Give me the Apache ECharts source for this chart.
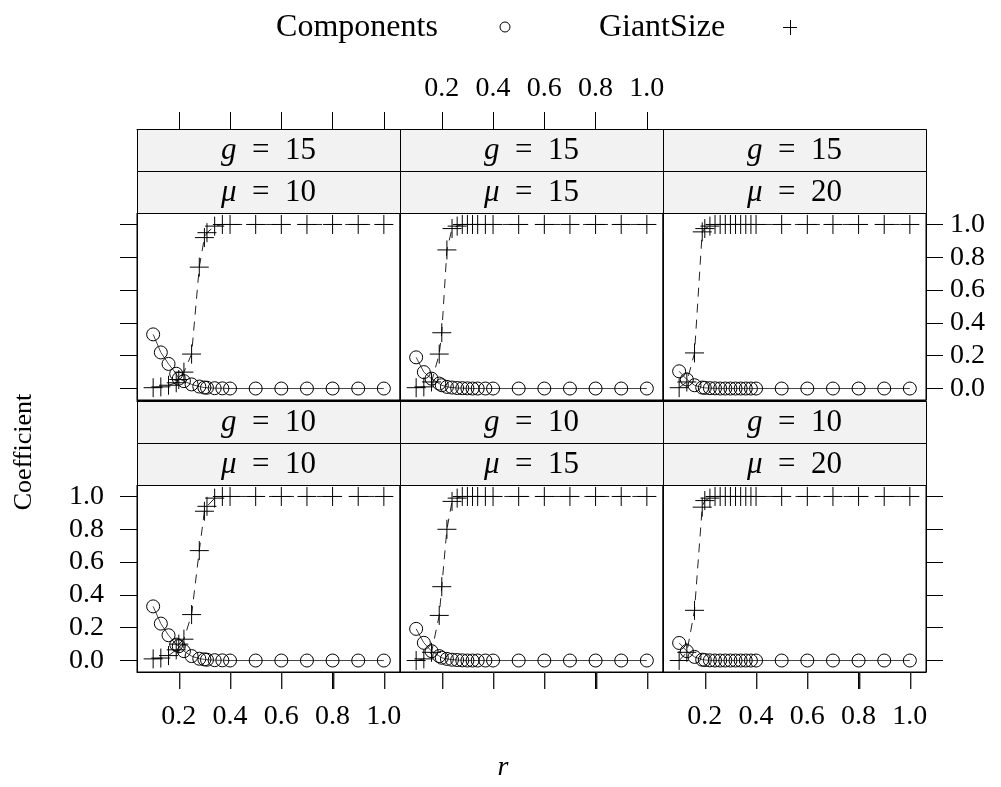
<!DOCTYPE html>
<html><head><meta charset="utf-8">
<script src="https://cdn.jsdelivr.net/npm/echarts@6/dist/echarts.min.js"></script>
<style>html,body{margin:0;padding:0;background:#fff}#c{width:1001px;height:787px}</style>
</head><body><div id="c"></div>
<script>
// ---- data ----
const r_mu10 = [0.1,0.13,0.16,0.19,0.2,0.22,0.25,0.28,0.3,0.31,0.34,0.37,0.4,0.5,0.6,0.7,0.8,0.9,1.0];
const r_mu15 = [0.1,0.13,0.16,0.19,0.2,0.22,0.24,0.26,0.28,0.3,0.32,0.34,0.37,0.4,0.5,0.6,0.7,0.8,0.9,1.0];
const r_mu20 = [0.1,0.13,0.16,0.19,0.2,0.22,0.24,0.26,0.28,0.3,0.32,0.34,0.36,0.38,0.4,0.5,0.6,0.7,0.8,0.9,1.0];

const comp_g15_mu10  = [0.33,0.22,0.15,0.09,0.06,0.045,0.025,0.012,0.006,0.005,0.002,0.001,0,0,0,0,0,0,0];
const giant_g15_mu10 = [0.005,0.01,0.02,0.035,0.055,0.1,0.21,0.74,0.92,0.95,0.99,1,1,1,1,1,1,1,1];
const comp_g15_mu15  = [0.19,0.10,0.06,0.03,0.02,0.01,0.006,0.003,0.002,0.001,0,0,0,0,0,0,0,0,0,0];
const giant_g15_mu15 = [0.005,0.01,0.04,0.21,0.34,0.845,0.975,0.99,1,1,1,1,1,1,1,1,1,1,1,1];
const comp_g15_mu20  = [0.105,0.055,0.02,0.006,0.004,0.002,0.001,0,0,0,0,0,0,0,0,0,0,0,0,0,0];
const giant_g15_mu20 = [0.005,0.04,0.217,0.955,0.975,0.99,1,1,1,1,1,1,1,1,1,1,1,1,1,1,1];
const comp_g10_mu10  = [0.33,0.225,0.154,0.097,0.087,0.057,0.027,0.011,0.007,0.005,0.002,0.001,0,0,0,0,0,0,0];
const giant_g10_mu10 = [0.01,0.015,0.03,0.065,0.1,0.13,0.28,0.67,0.91,0.94,0.99,1,1,1,1,1,1,1,1];
const comp_g10_mu15  = [0.193,0.108,0.057,0.027,0.017,0.01,0.005,0.003,0.001,0,0,0,0,0,0,0,0,0,0,0];
const giant_g10_mu15 = [0.0,0.01,0.05,0.275,0.45,0.80,0.97,0.99,1,1,1,1,1,1,1,1,1,1,1,1];
const comp_g10_mu20  = [0.107,0.057,0.022,0.005,0.003,0.001,0,0,0,0,0,0,0,0,0,0,0,0,0,0,0];
const giant_g10_mu20 = [0.0,0.05,0.306,0.935,0.975,0.99,1,1,1,1,1,1,1,1,1,1,1,1,1,1,1];

const xTicks = [0.2,0.4,0.6,0.8,1.0];
const yTicks = [0,0.2,0.4,0.6,0.8,1.0];
const seriesNames = ['Components','GiantSize'];

const panels = [
  {g:15, mu:10, r:r_mu10, comp:comp_g15_mu10, giant:giant_g15_mu10},
  {g:15, mu:15, r:r_mu15, comp:comp_g15_mu15, giant:giant_g15_mu15},
  {g:15, mu:20, r:r_mu20, comp:comp_g15_mu20, giant:giant_g15_mu20},
  {g:10, mu:10, r:r_mu10, comp:comp_g10_mu10, giant:giant_g10_mu10},
  {g:10, mu:15, r:r_mu15, comp:comp_g10_mu15, giant:giant_g10_mu15},
  {g:10, mu:20, r:r_mu20, comp:comp_g10_mu20, giant:giant_g10_mu20}
];

// ---- layout ----
const FONT = '"Liberation Serif", "Times New Roman", serif';
const colLeft = [137, 400, 663];
const panelW = 263;
const rowTop = [213, 485];
const panelH = 187;
const stripH = 42;
const TICK = 17;
const XMIN = 0.037, XMAX = 1.063, YMIN = -0.07, YMAX = 1.07;
const PLUS = 'path://M0,10L20,10M10,0L10,20';

const grids = [], xAxes = [], yAxes = [], series = [], graphics = [];

function tickStyle(show, vals) {
  return {show: show, length: TICK, inside: false, customValues: vals, lineStyle: {color: '#000', width: 1}};
}
function labelStyle(show, vals, margin) {
  return {show: show, customValues: vals, margin: margin, color: '#000', fontFamily: FONT, fontSize: 28,
          formatter: v => Number(v).toFixed(1)};
}
function axLine() { return {show: true, onZero: false, lineStyle: {color: '#000', width: 1}}; }

panels.forEach((p, i) => {
  const row = i < 3 ? 0 : 1, col = i % 3;
  grids.push({left: colLeft[col], top: rowTop[row], width: panelW, height: panelH,
              show: true, borderColor: '#000', borderWidth: 1});
  // bottom x
  xAxes.push({type: 'value', gridIndex: i, position: 'bottom', min: XMIN, max: XMAX,
    axisLine: axLine(), splitLine: {show: false},
    axisTick: tickStyle(row === 1, xTicks), axisLabel: labelStyle(row === 1 && col !== 1, xTicks, 31)});
  // top x
  xAxes.push({type: 'value', gridIndex: i, position: 'top', offset: stripH * 2, min: XMIN, max: XMAX,
    axisLine: axLine(), splitLine: {show: false},
    axisTick: tickStyle(row === 0 && col < 2, xTicks), axisLabel: labelStyle(row === 0 && col === 1, xTicks, 26)});
  // left y
  yAxes.push({type: 'value', gridIndex: i, position: 'left', min: YMIN, max: YMAX,
    axisLine: axLine(), splitLine: {show: false},
    axisTick: tickStyle(col === 0, yTicks), axisLabel: labelStyle(col === 0 && row === 1, yTicks, 33)});
  // right y
  yAxes.push({type: 'value', gridIndex: i, position: 'right', min: YMIN, max: YMAX,
    axisLine: axLine(), splitLine: {show: false},
    axisTick: tickStyle(col === 2, yTicks), axisLabel: labelStyle(col === 2 && row === 0, yTicks, 24)});

  series.push({
    name: seriesNames[0], type: 'line', xAxisIndex: 2 * i, yAxisIndex: 2 * i,
    data: p.r.map((x, k) => [x, p.comp[k]]),
    symbol: 'circle', symbolSize: 13, showAllSymbol: true, silent: true,
    lineStyle: {color: '#444', width: 1, type: 'solid'},
    itemStyle: {color: 'rgba(0,0,0,0)', borderColor: '#000', borderWidth: 1}
  });
  series.push({
    name: seriesNames[1], type: 'line', xAxisIndex: 2 * i, yAxisIndex: 2 * i,
    data: p.r.map((x, k) => [x, p.giant[k]]),
    symbol: PLUS, symbolSize: 19, showAllSymbol: true, silent: true,
    lineStyle: {color: '#222', width: 1, type: [9, 7]},
    itemStyle: {color: 'rgba(0,0,0,0)', borderColor: '#000', borderWidth: 1}
  });

  // strips
  const sx = colLeft[col], sTop = rowTop[row] - 2 * stripH;
  const strips = [
    {y: sTop, txt: '{i|g}\u2002=\u2002' + p.g},
    {y: sTop + stripH, txt: '{i|μ}\u2002=\u2002' + p.mu}
  ];
  strips.forEach(s => {
    graphics.push({type: 'rect', silent: true, z: 1,
      shape: {x: sx + 0.5, y: s.y + 0.5, width: panelW, height: stripH},
      style: {fill: '#f2f2f2', stroke: '#000', lineWidth: 1}});
    graphics.push({type: 'text', silent: true, z: 2, x: sx + panelW / 2, y: s.y + stripH / 2 + 1,
      style: {text: s.txt, font: '31px ' + FONT, fill: '#000', align: 'center', verticalAlign: 'middle',
        rich: {i: {fontStyle: 'italic', fontFamily: FONT, fontSize: 31}}}});
  });
});

// legend (key above the panels)
graphics.push({type: 'text', silent: true, x: 357, y: 28,
  style: {text: seriesNames[0], font: '32px ' + FONT, fill: '#000', align: 'center', verticalAlign: 'middle'}});
graphics.push({type: 'circle', silent: true, shape: {cx: 505, cy: 27, r: 5},
  style: {fill: 'none', stroke: '#000', lineWidth: 1}});
graphics.push({type: 'text', silent: true, x: 662, y: 28,
  style: {text: seriesNames[1], font: '32px ' + FONT, fill: '#000', align: 'center', verticalAlign: 'middle'}});
graphics.push({type: 'line', silent: true, shape: {x1: 783, y1: 27.5, x2: 797, y2: 27.5}, style: {stroke: '#000', lineWidth: 1}});
graphics.push({type: 'line', silent: true, shape: {x1: 790.5, y1: 20, x2: 790.5, y2: 35}, style: {stroke: '#000', lineWidth: 1}});

// axis titles
graphics.push({type: 'text', silent: true, x: 24, y: 452, rotation: Math.PI / 2,
  style: {text: 'Coefficient', font: '26px ' + FONT, fill: '#000', align: 'center', verticalAlign: 'middle'}});
graphics.push({type: 'text', silent: true, x: 503, y: 768,
  style: {text: 'r', font: 'italic 28px ' + FONT, fill: '#000', align: 'center', verticalAlign: 'middle'}});

const chart = echarts.init(document.getElementById('c'));
chart.setOption({
  animation: false,
  grid: grids, xAxis: xAxes, yAxis: yAxes, series: series, graphic: graphics
});

// bottom-row x ticks, positioned through each panel's own x scale (drawn on top)
const tickLines = [];
panels.forEach((p, i) => {
  if (i < 3) return;
  const yBase = rowTop[1] + panelH;
  xTicks.forEach(v => {
    const px = chart.convertToPixel({xAxisIndex: 2 * i}, v);
    tickLines.push({type: 'rect', silent: true, z: 100, zlevel: 1,
      shape: {x: Math.round(px), y: yBase, width: 1.4, height: TICK},
      style: {fill: '#222', stroke: null}});
  });
});
chart.setOption({graphic: graphics.concat(tickLines)});
</script></body></html>
